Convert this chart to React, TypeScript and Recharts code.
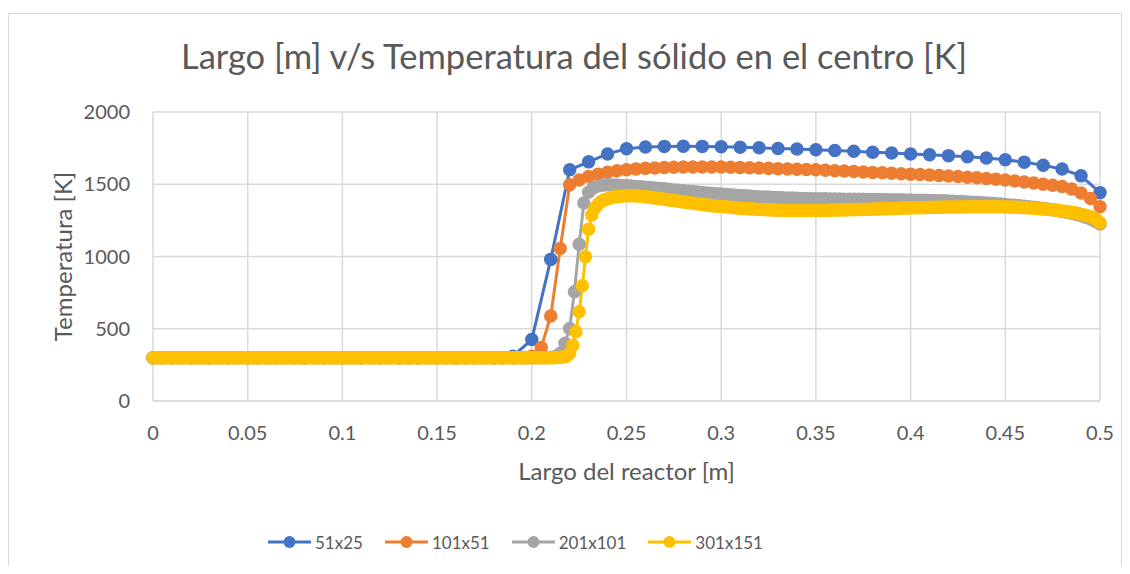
import React from "react";
import { LineChart, Line, XAxis, YAxis, CartesianGrid, Legend } from "recharts";

// Reactor length [m]; nodes are evenly spaced along it
const REACTOR_LENGTH = 0.5;

const xTicks = [0, 0.05, 0.1, 0.15, 0.2, 0.25, 0.3, 0.35, 0.4, 0.45, 0.5];
const yTicks = [0, 500, 1000, 1500, 2000];

// Solid temperature at the centre [K], one value per axial node
const t51x25 = [
  300, 300, 300, 300, 300, 300, 300, 300, 300, 300,
  300, 300, 300, 300, 300, 300, 300, 300, 300, 310,
  425, 980, 1600, 1655, 1710, 1745, 1758, 1762, 1763, 1762,
  1759, 1756, 1752, 1748, 1744, 1739, 1734, 1728, 1722, 1716,
  1710, 1704, 1698, 1691, 1681, 1669, 1653, 1632, 1605, 1558,
  1442,
];

const t101x51 = [
  300, 300, 300, 300, 300, 300, 300, 300, 300, 300,
  300, 300, 300, 300, 300, 300, 300, 300, 300, 300,
  300, 300, 300, 300, 300, 300, 300, 300, 300, 300,
  300, 300, 300, 300, 300, 300, 300, 300, 300, 300,
  310, 370, 588, 1055, 1496, 1530, 1553, 1570, 1583, 1593,
  1600, 1606, 1610, 1613, 1616, 1618, 1619, 1620, 1620, 1620,
  1619, 1618, 1616, 1614, 1612, 1610, 1608, 1606, 1604, 1602,
  1600, 1597, 1594, 1591, 1588, 1585, 1582, 1579, 1576, 1573,
  1570, 1567, 1564, 1561, 1557, 1553, 1549, 1545, 1540, 1535,
  1529, 1523, 1516, 1508, 1500, 1493, 1485, 1467, 1440, 1402,
  1345,
];

const t201x101 = [
  300, 300, 300, 300, 300, 300, 300, 300, 300, 300, 300, 300, 300, 300, 300, 300, 300, 300, 300, 300,
  300, 300, 300, 300, 300, 300, 300, 300, 300, 300, 300, 300, 300, 300, 300, 300, 300, 300, 300, 300,
  300, 300, 300, 300, 300, 300, 300, 300, 300, 300, 300, 300, 300, 300, 300, 300, 300, 300, 300, 300,
  300, 300, 300, 300, 300, 300, 300, 300, 300, 300, 300, 300, 300, 300, 300, 300, 300, 300, 300, 300,
  300, 300, 300, 300, 302, 308, 330, 400, 502, 756, 1085, 1370, 1445, 1475, 1488, 1494, 1496, 1495, 1494, 1492,
  1490, 1488, 1485, 1483, 1480, 1477, 1474, 1471, 1468, 1465, 1461, 1458, 1455, 1452, 1449, 1446, 1443, 1440, 1437, 1435,
  1432, 1429, 1427, 1424, 1422, 1420, 1418, 1416, 1414, 1412, 1411, 1409, 1408, 1407, 1405, 1404, 1403, 1402, 1401, 1400,
  1400, 1399, 1399, 1398, 1398, 1398, 1397, 1397, 1397, 1396, 1396, 1395, 1395, 1394, 1394, 1393, 1393, 1392, 1392, 1391,
  1391, 1390, 1390, 1389, 1388, 1387, 1386, 1385, 1384, 1383, 1381, 1380, 1378, 1376, 1374, 1372, 1370, 1368, 1365, 1363,
  1360, 1357, 1354, 1351, 1348, 1344, 1341, 1337, 1333, 1328, 1323, 1318, 1312, 1306, 1299, 1291, 1282, 1272, 1259, 1244,
  1225,
];

const t301x151 = [
  300, 300, 300, 300, 300, 300, 300, 300, 300, 300, 300, 300, 300, 300, 300, 300, 300, 300, 300, 300,
  300, 300, 300, 300, 300, 300, 300, 300, 300, 300, 300, 300, 300, 300, 300, 300, 300, 300, 300, 300,
  300, 300, 300, 300, 300, 300, 300, 300, 300, 300, 300, 300, 300, 300, 300, 300, 300, 300, 300, 300,
  300, 300, 300, 300, 300, 300, 300, 300, 300, 300, 300, 300, 300, 300, 300, 300, 300, 300, 300, 300,
  300, 300, 300, 300, 300, 300, 300, 300, 300, 300, 300, 300, 300, 300, 300, 300, 300, 300, 300, 300,
  300, 300, 300, 300, 300, 300, 300, 300, 300, 300, 300, 300, 300, 300, 300, 300, 300, 300, 300, 300,
  300, 300, 300, 300, 300, 300, 300, 300, 301, 302, 304, 310, 330, 386, 479, 617, 797, 999, 1189, 1288,
  1335, 1362, 1380, 1392, 1400, 1406, 1411, 1414, 1417, 1419, 1420, 1420, 1420, 1419, 1418, 1416, 1414, 1411, 1408, 1405,
  1402, 1399, 1396, 1393, 1390, 1387, 1384, 1381, 1378, 1375, 1372, 1369, 1366, 1363, 1360, 1357, 1354, 1352, 1350, 1348,
  1346, 1344, 1342, 1340, 1338, 1336, 1334, 1333, 1331, 1330, 1328, 1327, 1326, 1325, 1324, 1323, 1322, 1321, 1320, 1320,
  1319, 1319, 1318, 1318, 1318, 1318, 1318, 1318, 1318, 1318, 1318, 1319, 1319, 1319, 1320, 1320, 1321, 1321, 1322, 1322,
  1323, 1323, 1324, 1325, 1325, 1326, 1327, 1327, 1328, 1329, 1329, 1330, 1331, 1331, 1332, 1333, 1333, 1334, 1335, 1335,
  1336, 1337, 1337, 1338, 1338, 1339, 1339, 1340, 1340, 1341, 1341, 1342, 1342, 1342, 1343, 1343, 1343, 1344, 1344, 1344,
  1344, 1345, 1345, 1345, 1345, 1345, 1345, 1344, 1344, 1344, 1343, 1343, 1342, 1341, 1340, 1339, 1338, 1337, 1336, 1334,
  1333, 1331, 1329, 1327, 1325, 1323, 1321, 1318, 1315, 1312, 1309, 1306, 1302, 1298, 1293, 1288, 1282, 1275, 1266, 1253,
  1234,
];

const series = [
  { name: "51x25", color: "#4472c4", temps: t51x25 },
  { name: "101x51", color: "#ed7d31", temps: t101x51 },
  { name: "201x101", color: "#a5a5a5", temps: t201x101 },
  { name: "301x151", color: "#ffc000", temps: t301x151 },
];

const toPoints = (temps: number[]) =>
  temps.map((t, i) => ({ x: (i * REACTOR_LENGTH) / (temps.length - 1), t }));

const TEXT = "#595959";
const GRID = "#d9d9d9";
const LABEL_SIZE = 24;

const XLabel = (props: any) => {
  const vb = props.viewBox || {};
  const cx = vb.x + vb.width / 2;
  const cy = vb.y + vb.height / 2;
  return (
    <text x={cx} y={cy} textAnchor="middle" dominantBaseline="central" fontSize={LABEL_SIZE} fill={TEXT}>
      Largo del reactor [m]
    </text>
  );
};

const YLabel = (props: any) => {
  const vb = props.viewBox || {};
  const cx = 53;
  const cy = vb.y + vb.height / 2;
  return (
    <text
      x={cx}
      y={cy}
      transform={`rotate(-90, ${cx}, ${cy})`}
      textAnchor="middle"
      dominantBaseline="central"
      fontSize={LABEL_SIZE}
      fill={TEXT}
    >
      Temperatura [K]
    </text>
  );
};

// Legend in the same order as the series list
const renderLegend = () => (
  <div style={{ display: "flex", alignItems: "center", gap: 22, height: 24 }}>
    {series.map((s) => (
      <div key={s.name} style={{ display: "flex", alignItems: "center" }}>
        <svg width={43} height={14}>
          <line x1={0} y1={7} x2={43} y2={7} stroke={s.color} strokeWidth={3} />
          <circle cx={21.5} cy={7} r={6} fill={s.color} />
        </svg>
        <span style={{ marginLeft: 4, fontSize: 17, color: TEXT }}>{s.name}</span>
      </div>
    ))}
  </div>
);

export default function App() {
  return (
    <div
      style={{
        position: "relative",
        marginTop: 5,
        width: 1114,
        height: 553,
        boxSizing: "border-box",
        borderTop: `1px solid ${GRID}`,
        borderLeft: `1px solid ${GRID}`,
        borderRight: `1px solid ${GRID}`,
        fontFamily: "Lato, sans-serif",
        background: "#fff",
      }}
    >
      <LineChart width={1112} height={552} margin={{ top: 98, right: 21, bottom: 26, left: 0 }}>
        <CartesianGrid stroke={GRID} strokeWidth={1.5} />
        <XAxis
          type="number"
          dataKey="x"
          domain={[0, 0.5]}
          ticks={xTicks}
          height={139}
          tickLine={false}
          tickMargin={19}
          axisLine={{ stroke: GRID, strokeWidth: 1.5 }}
          tick={{ fill: TEXT, fontSize: 20 }}
          label={XLabel}
        />
        <YAxis
          type="number"
          domain={[0, 2000]}
          ticks={yTicks}
          width={144}
          tickLine={false}
          axisLine={false}
          tickMargin={17}
          tick={{ fill: TEXT, fontSize: 20 }}
          label={YLabel}
        />
        {series.map((s) => (
          <Line
            key={s.name}
            name={s.name}
            data={toPoints(s.temps)}
            dataKey="t"
            type="linear"
            stroke={s.color}
            strokeWidth={3}
            dot={{ r: 6, fill: s.color, stroke: s.color, strokeWidth: 1.5 }}
            activeDot={false}
            isAnimationActive={false}
          />
        ))}
        <Legend
          layout="horizontal"
          verticalAlign="middle"
          align="center"
          content={renderLegend}
          wrapperStyle={{ left: 259, top: 516, width: 620, height: 24 }}
        />
      </LineChart>
      <div
        style={{
          position: "absolute",
          left: 65,
          top: 25,
          width: 1000,
          textAlign: "center",
          fontSize: 34.5,
          lineHeight: 1,
          color: TEXT,
          whiteSpace: "nowrap",
        }}
      >
        Largo [m] v/s Temperatura del sólido en el centro [K]
      </div>
    </div>
  );
}
